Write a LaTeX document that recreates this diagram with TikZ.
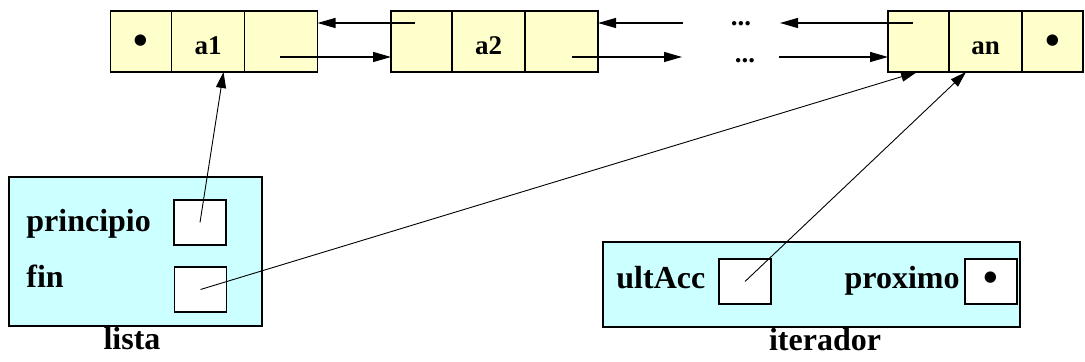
\documentclass[tikz,border=0pt]{standalone}
\usepackage{fontspec}
\setmainfont{Liberation Serif}
\usetikzlibrary{positioning,arrows.meta}
\definecolor{nodoamar}{RGB}{255,255,204}
\definecolor{cajaceleste}{RGB}{204,255,255}
\newcommand{\bola}{{\fontsize{21}{21}\selectfont\textbullet}}

\begin{document}
\begin{tikzpicture}[x=0.5pt,y=-0.5pt,
    celda/.style={draw=black,fill=nodoamar,line width=0.65pt,outer sep=0pt,inner sep=0pt,minimum height=30.5pt,text height=13.5pt,text depth=0pt,font=\fontsize{13.5}{16}\selectfont\bfseries},
    corta/.style={celda,minimum width=30.5pt},
    larga/.style={celda,minimum width=36.5pt},
    caja/.style={draw=black,fill=cajaceleste,line width=0.65pt,inner sep=0pt},
    casilla/.style={draw=black,fill=white,line width=0.65pt,inner sep=0pt,minimum width=26pt,minimum height=22.5pt,font=\fontsize{13.5}{16}\selectfont\bfseries},
    rotulo/.style={inner sep=0pt,font=\fontsize{16}{19}\selectfont\bfseries},
    puntos/.style={inner sep=0pt,anchor=base,font=\fontsize{13.5}{16}\selectfont\bfseries},
    enlace/.style={line width=0.65pt,-{Triangle[length=9pt,width=5pt]}},
    puntero/.style={line width=0.45pt,-{Triangle[length=8pt,width=5pt]}}]

        \useasboundingbox (0,0) rectangle (1085,362);

        % la lista doblemente enlazada
        \node[corta] (n1a) at (141,41.5) {\bola};
        \node[larga,right=0pt of n1a] (n1b) {a1};
        \node[larga,right=0pt of n1b] (n1c) {};

        \node[corta] (n2a) at (421.5,41.5) {};
        \node[larga,right=0pt of n2a] (n2b) {a2};
        \node[larga,right=0pt of n2b] (n2c) {};

        \node[corta] (nna) at (918.5,41.5) {};
        \node[larga,right=0pt of nna] (nnb) {an};
        \node[corta,right=0pt of nnb] (nnc) {\bola};

        \node[puntos] (d1) at (741,26) {...};
        \node[puntos] (d2) at (745,63) {...};

        \coordinate (v1) at (683,23);
        \coordinate (v2) at (682,57);
        \coordinate (v3) at (780,23);
        \coordinate (v4) at (779,57);

        \draw[enlace] ([xshift=-3.25pt,yshift=9.25pt]n2a.center) -- ([yshift=9.25pt]n1c.east);
        \draw[enlace] ([xshift=-0.5pt,yshift=-7.75pt]n1c.center) -- ([yshift=-7.75pt]n2a.west);
        \draw[enlace] (v1) -- ([yshift=9.25pt]n2c.east);
        \draw[enlace] ([xshift=5.25pt,yshift=-7.75pt]n2c.center) -- (v2);
        \draw[enlace] ([xshift=-2.75pt,yshift=9.25pt]nna.center) -- (v3);
        \draw[enlace] (v4) -- ([yshift=-7.75pt]nna.west);

        % la cabecera
        \node[caja,minimum width=126.5pt,minimum height=74.5pt] (lista) at (135.5,251.5) {};
        \node[rotulo,anchor=base west] (tprin) at (26,232) {principio};
        \node[rotulo,anchor=base west] (tfin) at (26,288) {fin};
        \node[casilla] (cprin) at (200,222.5) {};
        \node[casilla] (cfin) at (200.5,289.5) {};
        \node[rotulo,anchor=base] (tlista) at (132,350) {lista};

        % el iterador
        \node[caja,minimum width=208.5pt,minimum height=42.5pt] (iter) at (811.5,284.5) {};
        \node[rotulo,anchor=base west] (tult) at (616,289) {ultAcc};
        \node[casilla] (cult) at (745,281.5) {};
        \node[rotulo,anchor=base east] (tprox) at (960,289) {proximo};
        \node[casilla] (cprox) at (991,281.5) {\bola};
        \node[rotulo,anchor=base] (titer) at (825,351) {iterador};

        \draw[puntero] (cprin.center) -- ([xshift=7.75pt]n1b.south);
        \draw[puntero] (cfin.center) -- ([xshift=-0.75pt]nna.south);
        \draw[puntero] (cult.center) -- ([xshift=-9.75pt]nnb.south);
    \end{tikzpicture}
\end{document}
